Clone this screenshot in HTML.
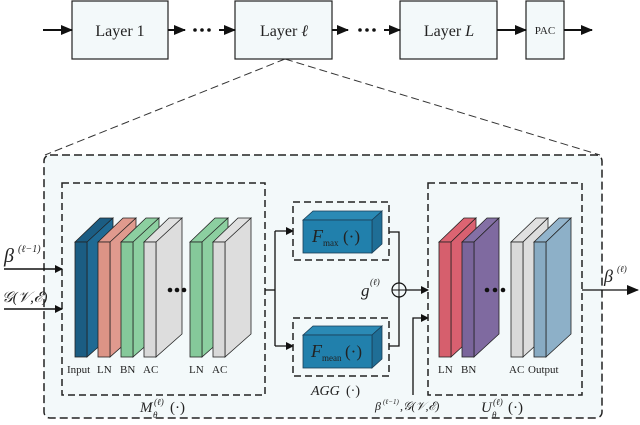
<!DOCTYPE html>
<html><head><meta charset="utf-8"><style>
html,body{margin:0;padding:0;background:#fff}
svg{display:block}
text{font-family:"Liberation Serif",serif;fill:#222}
</style></head><body>
<svg width="640" height="425" viewBox="0 0 640 425" xmlns="http://www.w3.org/2000/svg">
<defs>
<marker id="ah" markerWidth="8" markerHeight="8" refX="7" refY="4" orient="auto" markerUnits="userSpaceOnUse"><path d="M0,0 L8,4 L0,8 z" fill="#111"/></marker>
<marker id="ah2" markerWidth="12" markerHeight="10" refX="11" refY="5" orient="auto" markerUnits="userSpaceOnUse"><path d="M0,0 L12,5 L0,10 z" fill="#111"/></marker>
</defs>
<!-- top row -->
<g stroke="#222" stroke-width="1.2" fill="#f3f9fa">
<rect x="72" y="1" width="96" height="58"/>
<rect x="235" y="1" width="97" height="58"/>
<rect x="400" y="1" width="97" height="58"/>
<rect x="526" y="1" width="38" height="58"/>
</g>
<g stroke="#111" stroke-width="2" fill="none">
<line x1="43" y1="30" x2="72" y2="30" marker-end="url(#ah2)"/>
<line x1="168" y1="30" x2="185" y2="30" marker-end="url(#ah2)"/>
<line x1="219" y1="30" x2="235" y2="30" marker-end="url(#ah2)"/>
<line x1="332" y1="30" x2="348" y2="30" marker-end="url(#ah2)"/>
<line x1="384" y1="30" x2="400" y2="30" marker-end="url(#ah2)"/>
<line x1="497" y1="30" x2="526" y2="30" marker-end="url(#ah2)"/>
<line x1="564" y1="30" x2="592" y2="30" marker-end="url(#ah2)"/>
</g>
<g fill="#111"><circle cx="195" cy="30" r="1.8"/><circle cx="202" cy="30" r="1.8"/><circle cx="209" cy="30" r="1.8"/>
<circle cx="360" cy="30" r="1.8"/><circle cx="367" cy="30" r="1.8"/><circle cx="374" cy="30" r="1.8"/></g>
<text x="120" y="36" font-size="16" text-anchor="middle">Layer 1</text>
<text x="284" y="36" font-size="16" text-anchor="middle">Layer <tspan font-style="italic">ℓ</tspan></text>
<text x="449" y="36" font-size="16" text-anchor="middle">Layer <tspan font-style="italic">L</tspan></text>
<text x="545" y="34" font-size="11" text-anchor="middle">PAC</text>
<!-- zoom lines -->
<g stroke="#333" stroke-width="1" stroke-dasharray="8,4" fill="none">
<line x1="285" y1="59" x2="45" y2="155"/><line x1="285" y1="59" x2="600" y2="155"/>
</g>
<!-- outer -->
<rect x="44" y="155" width="558" height="263" rx="6" fill="#f3f9fa" stroke="#222" stroke-width="1.5" stroke-dasharray="8,4"/>
<!-- M box -->
<rect x="62" y="183" width="203" height="212" fill="none" stroke="#222" stroke-width="1.5" stroke-dasharray="7,4"/>
<g stroke="#222" stroke-width="0.8">
<polygon points="75,242 100,218 113,218 88,242" fill="#1b5d83"/><polygon points="87,242 113,218 113,334 87,357" fill="#1f6a94"/><rect x="75" y="242" width="12" height="115" fill="#1b5d83"/>
<polygon points="98,242 123,218 136,218 111,242" fill="#e09a8e"/><polygon points="110,242 136,218 136,334 110,357" fill="#e09a8e"/><rect x="98" y="242" width="12" height="115" fill="#dc9486"/>
<polygon points="121,242 146,218 159,218 134,242" fill="#8ccfa0"/><polygon points="133,242 159,218 159,334 133,357" fill="#8ccfa0"/><rect x="121" y="242" width="12" height="115" fill="#85c99a"/>
<polygon points="144,242 169,218 182,218 157,242" fill="#e0e0e0"/><polygon points="156,242 182,218 182,334 156,357" fill="#dddddd"/><rect x="144" y="242" width="12" height="115" fill="#d9d9d9"/>
<polygon points="190,242 215,218 228,218 203,242" fill="#8ccfa0"/><polygon points="202,242 228,218 228,334 202,357" fill="#8ccfa0"/><rect x="190" y="242" width="12" height="115" fill="#85c99a"/>
<polygon points="213,242 238,218 251,218 226,242" fill="#e0e0e0"/><polygon points="225,242 251,218 251,334 225,357" fill="#dddddd"/><rect x="213" y="242" width="12" height="115" fill="#d9d9d9"/>
</g>
<g fill="#111"><circle cx="170" cy="290" r="2.3"/><circle cx="177" cy="290" r="2.3"/><circle cx="184" cy="290" r="2.3"/></g>
<g font-size="11"><text x="67" y="373">Input</text><text x="97" y="373">LN</text><text x="120" y="373">BN</text><text x="143" y="373">AC</text><text x="189" y="373">LN</text><text x="212" y="373">AC</text></g>
<text x="140" y="412" font-size="15" font-style="italic">M</text><text x="154" y="405" font-size="9" font-style="italic">(ℓ)</text><text x="153" y="418" font-size="9" font-style="italic">θ</text><text x="170" y="412" font-size="15">(·)</text>
<!-- inputs -->
<g stroke="#111" stroke-width="1.5"><line x1="4" y1="269" x2="62" y2="269" marker-end="url(#ah)"/><line x1="4" y1="309" x2="62" y2="309" marker-end="url(#ah)"/></g>
<text x="4" y="262" font-size="20" font-style="italic">β</text><text x="18" y="252" font-size="10" font-style="italic">(ℓ−1)</text>
<text x="2" y="302" font-size="15" font-style="italic">𝒢(𝒱,ℰ)</text>
<!-- split to AGG -->
<g stroke="#111" stroke-width="1.3" fill="none">
<polyline points="265,290 275,290"/><polyline points="275,231 275,346"/>
<line x1="275" y1="231" x2="293" y2="231" marker-end="url(#ah)"/><line x1="275" y1="346" x2="293" y2="346" marker-end="url(#ah)"/>
<polyline points="389,232 399,232 399,346 389,346"/>
<line x1="406" y1="290" x2="428" y2="290" marker-end="url(#ah)"/>
<polyline points="413,395 413,318 428,318" marker-end="url(#ah)"/>
<line x1="582" y1="290" x2="638" y2="290" marker-end="url(#ah2)"/>
</g>
<rect x="293" y="202" width="96" height="58" fill="none" stroke="#222" stroke-width="1.5" stroke-dasharray="7,4"/>
<rect x="293" y="318" width="96" height="58" fill="none" stroke="#222" stroke-width="1.5" stroke-dasharray="7,4"/>
<g stroke="#1a3d55" stroke-width="0.8">
<polygon points="303,220 313,211 382,211 372,220" fill="#2b8ab5"/><polygon points="372,220 382,211 382,244 372,253" fill="#1f6e96"/><rect x="303" y="220" width="69" height="33" fill="#2180ac"/>
<polygon points="303,335 313,326 382,326 372,335" fill="#2b8ab5"/><polygon points="372,335 382,326 382,359 372,368" fill="#1f6e96"/><rect x="303" y="335" width="69" height="33" fill="#2180ac"/>
</g>
<text x="312" y="242" font-size="18" font-style="italic">F</text><text x="323" y="246" font-size="9">max</text><text x="343" y="242" font-size="17">(·)</text>
<text x="311" y="357" font-size="18" font-style="italic">F</text><text x="322" y="361" font-size="9">mean</text><text x="345" y="357" font-size="17">(·)</text>
<text x="311" y="395" font-size="14" font-style="italic">AGG</text><text x="346" y="395" font-size="14">(·)</text>
<circle cx="399" cy="290" r="7" fill="#f3f9fa" stroke="#111" stroke-width="1.2"/><line x1="392" y1="290" x2="406" y2="290" stroke="#111"/><line x1="399" y1="283" x2="399" y2="297" stroke="#111"/>
<text x="361" y="296" font-size="17" font-style="italic">g</text><text x="370" y="285" font-size="9" font-style="italic">(ℓ)</text>
<!-- U box -->
<rect x="428" y="183" width="154" height="212" fill="none" stroke="#222" stroke-width="1.5" stroke-dasharray="7,4"/>
<g stroke="#222" stroke-width="0.8">
<polygon points="439,242 464,218 476,218 451,242" fill="#dc6472"/><polygon points="451,242 476,218 476,334 451,357" fill="#d96070"/><rect x="439" y="242" width="12" height="115" fill="#d65f6d"/>
<polygon points="462,242 487,218 499,218 474,242" fill="#8470a5"/><polygon points="474,242 499,218 499,334 474,357" fill="#7f6aa0"/><rect x="462" y="242" width="12" height="115" fill="#7a659b"/>
<polygon points="511,242 536,218 548,218 523,242" fill="#e0e0e0"/><polygon points="523,242 548,218 548,334 523,357" fill="#dddddd"/><rect x="511" y="242" width="12" height="115" fill="#d9d9d9"/>
<polygon points="534,242 559,218 571,218 546,242" fill="#92b4cc"/><polygon points="546,242 571,218 571,334 546,357" fill="#8db0c8"/><rect x="534" y="242" width="12" height="115" fill="#88abc3"/>
</g>
<g fill="#111"><circle cx="487" cy="290" r="2.3"/><circle cx="495" cy="290" r="2.3"/><circle cx="503" cy="290" r="2.3"/></g>
<g font-size="11"><text x="438" y="373">LN</text><text x="461" y="373">BN</text><text x="509" y="373">AC</text><text x="528" y="373">Output</text></g>
<text x="481" y="412" font-size="15" font-style="italic">U</text><text x="493" y="405" font-size="9" font-style="italic">(ℓ)</text><text x="492" y="418" font-size="9" font-style="italic">θ</text><text x="508" y="412" font-size="15">(·)</text>
<text x="375" y="410" font-size="12" font-style="italic">β</text><text x="383" y="404" font-size="7" font-style="italic">(ℓ−1)</text><text x="400" y="410" font-size="12" font-style="italic">,𝒢(𝒱,ℰ)</text>
<text x="604" y="282" font-size="18" font-style="italic">β</text><text x="617" y="272" font-size="9" font-style="italic">(ℓ)</text>
</svg>
</body></html>
